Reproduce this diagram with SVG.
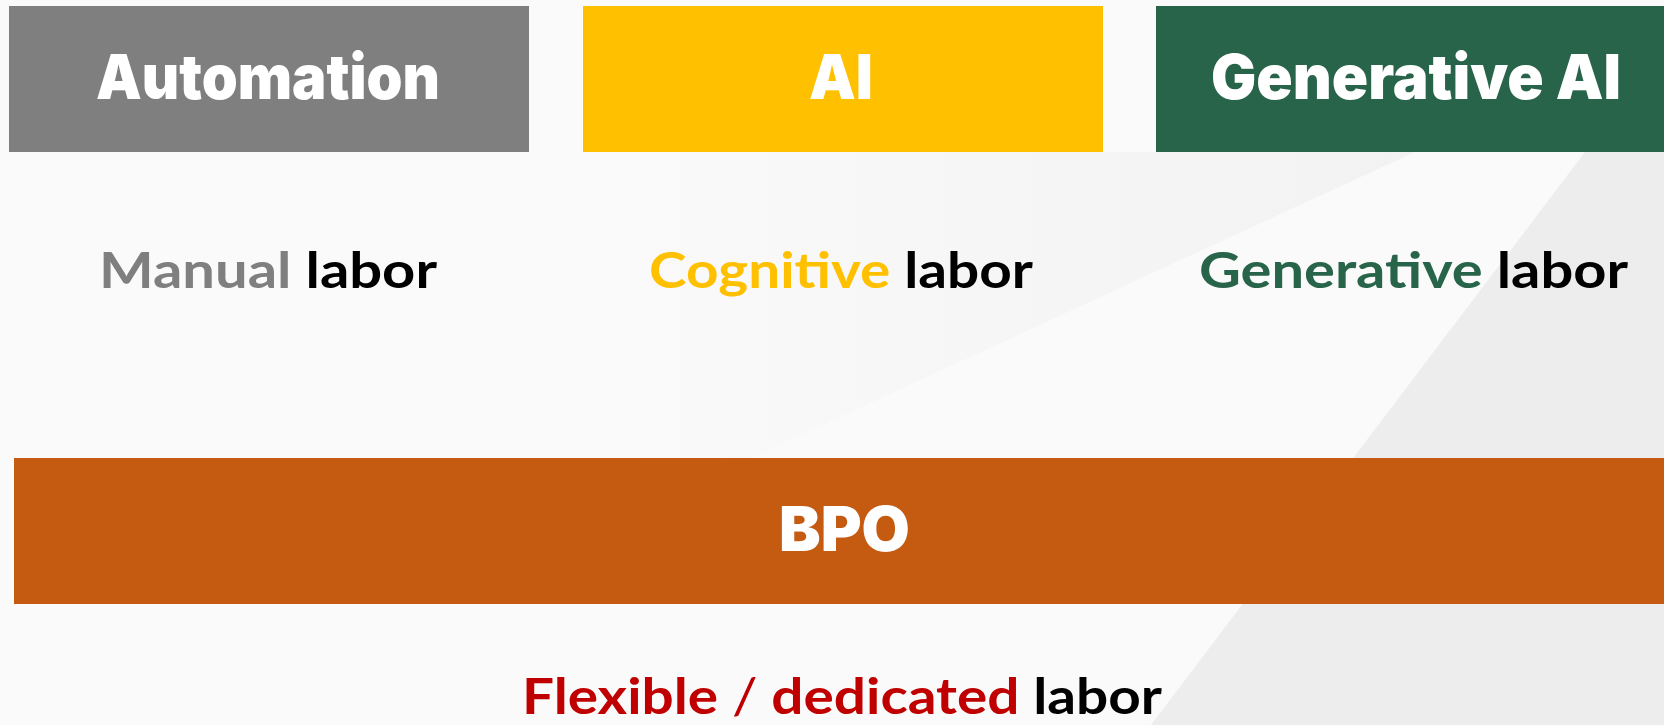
<svg xmlns="http://www.w3.org/2000/svg" width="1664" height="725" viewBox="0 0 1664 725">
  <style>
    .hdr { font-family: Inter, Lato, "Liberation Sans", "DejaVu Sans", sans-serif; font-weight: 900; font-size: 62px; fill: #FFFFFF; text-anchor: middle; }
    .lbl { font-family: Lato, "Liberation Sans", "DejaVu Sans", sans-serif; font-weight: 700; font-size: 50px; text-anchor: middle; }
    .blk { fill: #000000; }
  </style>
  <defs>
    <linearGradient id="g1" x1="600" y1="0" x2="1400" y2="0" gradientUnits="userSpaceOnUse">
      <stop offset="0" stop-color="#FAFAFA"/>
      <stop offset="1" stop-color="#F2F2F2"/>
    </linearGradient>
  </defs>
  <g id="background">
    <rect x="0" y="0" width="1664" height="725" fill="#FAFAFA"/>
    <polygon points="600,152 1415,152 751,458 600,527" fill="url(#g1)"/>
    <polygon points="1585,152 1664,152 1664,725 1151,725" fill="#EDEDED"/>
  </g>
  <g id="automation">
    <rect x="9" y="6" width="520" height="146" fill="#7F7F7F"/>
    <text class="hdr" x="268" y="99" textLength="344" lengthAdjust="spacingAndGlyphs">Automation</text>
  </g>
  <g id="ai">
    <rect x="583" y="6" width="520" height="146" fill="#FFC000"/>
    <text class="hdr" x="841" y="99" textLength="64" lengthAdjust="spacingAndGlyphs">AI</text>
  </g>
  <g id="generative-ai">
    <rect x="1156" y="6" width="520" height="146" fill="#28644A"/>
    <text class="hdr" x="1416" y="99" textLength="410" lengthAdjust="spacingAndGlyphs">Generative AI</text>
  </g>
  <g id="manual-labor">
    <text class="lbl" x="268" y="288" textLength="338" lengthAdjust="spacingAndGlyphs"><tspan fill="#7F7F7F">Manual</tspan> <tspan class="blk">labor</tspan></text>
  </g>
  <g id="cognitive-labor">
    <text class="lbl" x="841" y="288" textLength="384" lengthAdjust="spacingAndGlyphs"><tspan fill="#FFC000">Cognitive</tspan> <tspan class="blk">labor</tspan></text>
  </g>
  <g id="generative-labor">
    <text class="lbl" x="1413.5" y="288" textLength="429" lengthAdjust="spacingAndGlyphs"><tspan fill="#28644A">Generative</tspan> <tspan class="blk">labor</tspan></text>
  </g>
  <g id="bpo">
    <rect x="14" y="458" width="1662" height="146" fill="#C55A11"/>
    <text class="hdr" x="844.5" y="551" textLength="131" lengthAdjust="spacingAndGlyphs">BPO</text>
  </g>
  <g id="flexible-labor">
    <text class="lbl" x="842" y="714" textLength="640" lengthAdjust="spacingAndGlyphs"><tspan fill="#C00000">Flexible</tspan> <tspan fill="#C00000" font-weight="400">/</tspan> <tspan fill="#C00000">dedicated</tspan> <tspan class="blk">labor</tspan></text>
  </g>
  <g id="connectors"/>
</svg>
